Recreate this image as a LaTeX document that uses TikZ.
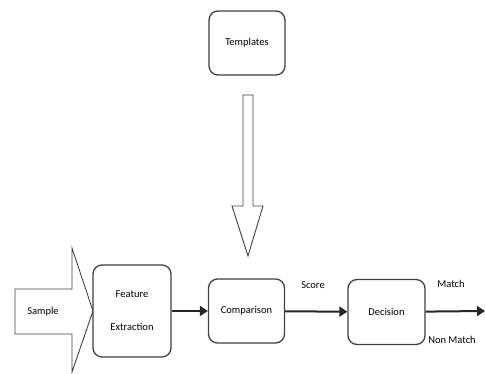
\documentclass[tikz,border=0pt]{standalone}
\usepackage{fontspec}
\setmainfont{Carlito}
\usetikzlibrary{arrows.meta}
\definecolor{boxgray}{HTML}{404040}
\definecolor{linegray}{HTML}{262626}

\begin{document}
\begin{tikzpicture}[x=1pt,y=-1pt,
    box/.style={draw=boxgray, line width=1.3pt, rounded corners=9pt, fill=white,
      align=center, inner sep=0pt, font=\fontsize{10.5}{12}\selectfont},
    conn/.style={draw=linegray, line width=2pt, -{Triangle[length=8pt,width=10pt]}},
    lbl/.style={font=\fontsize{10.5}{12}\selectfont}]
        \useasboundingbox (0,0) rectangle (485,374);
        % Blockpfeil von den Templates
        \draw[boxgray, line width=0.9pt] (243,95)--(253,95)--(253,206)--(263,206)--(248,256)--(232,206)--(243,206)--cycle;
        % Blockpfeil Sample
        \draw[boxgray, line width=0.9pt] (15,289)--(72,289)--(72,248)--(93,311)--(72,372)--(72,334)--(15,334)--cycle;
        \node[lbl] (sample) at (43,312) {Sample};
        % Bausteine
        \node[box, minimum width=76pt, minimum height=64pt] (templates) at (247,43) {Templates};
        \node[box, minimum width=78pt, minimum height=92pt] (feature) at (132,311) {Feature\\[21pt]Extraction};
        \node[box, minimum width=76pt, minimum height=64pt] (comparison) at (246.5,311) {Comparison};
        \node[box, minimum width=77pt, minimum height=65pt] (decision) at (386.5,312) {Decision};
        \coordinate (out) at (485,311);
        % Verbindungen
        \draw[conn] (feature) -- (comparison);
        \draw[conn] (comparison) -- (decision);
        \draw[conn] (decision) -- (out);
        \node[lbl] (score) at (313,285) {Score};
        \node[lbl] (match) at (451,284) {Match};
        \node[lbl] (nonmatch) at (452,340) {Non Match};
      \end{tikzpicture}
\end{document}
